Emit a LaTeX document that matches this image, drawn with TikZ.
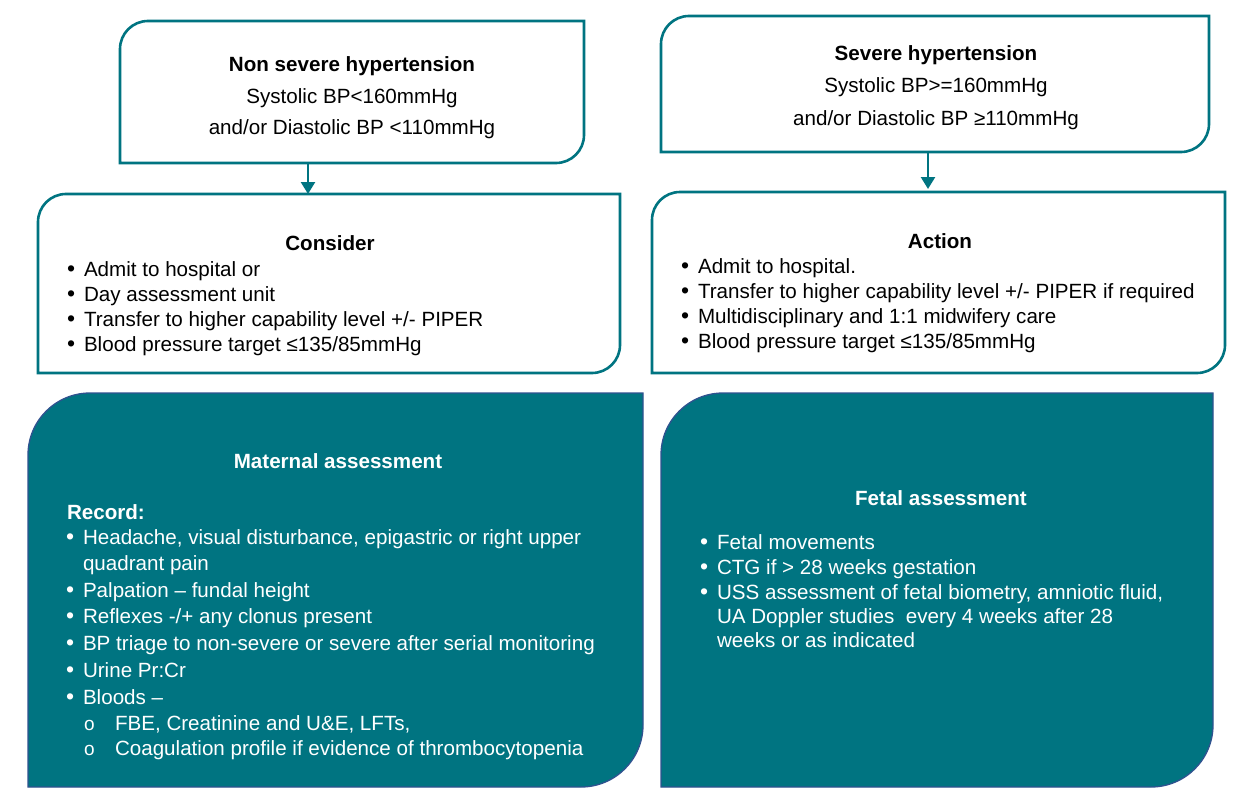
\documentclass[tikz,border=0pt]{standalone}
\usepackage{fontspec}
\setmainfont{Liberation Sans}
\usetikzlibrary{calc,arrows.meta}
\definecolor{teal1}{RGB}{0,116,129}
\definecolor{edgeblue}{RGB}{47,82,143}
\newcommand\frameTLBR[3]{%
\draw[#3] (#1.south west) -- ($(#1.north west)+(0,#2)$)
  .. controls ($(#1.north west)+(0,0.4477*#2)$) and ($(#1.north west)+(0.4477*#2,0)$) .. ($(#1.north west)+(#2,0)$)
  -- (#1.north east) -- ($(#1.south east)+(0,-#2)$)
  .. controls ($(#1.south east)+(0,-0.4477*#2)$) and ($(#1.south east)+(-0.4477*#2,0)$) .. ($(#1.south east)+(-#2,0)$)
  -- cycle;}
\newcommand\bul{\makebox[17pt][l]{\fontsize{23}{24}\selectfont\textbullet}}
\newcommand\subo{\makebox[32pt][l]{\hspace{1pt}\fontsize{19}{19}\selectfont o}}
\tikzset{
  box/.style={rectangle,inner sep=0pt,outer sep=0pt},
  whiteframe/.style={draw=teal1,line width=2.6pt,fill=white},
  tealframe/.style={draw=edgeblue,line width=1.3pt,fill=teal1},
  txt/.style={inner sep=0pt,outer sep=0pt,font=\fontsize{20.6}{24}\selectfont,anchor=base west},
  head/.style={inner sep=0pt,outer sep=0pt,font=\fontsize{20.6}{24}\selectfont,anchor=base},
  arr/.style={draw=teal1,line width=2.4pt,-{Triangle[width=14pt,length=12pt]}},
}
\begin{document}
\begin{tikzpicture}[x=1pt,y=-1pt]
\useasboundingbox[fill=white] (0,0) rectangle (1260,797);
% boxes
\node[box,minimum width=464pt,minimum height=142pt] (nonsev) at (352,92) {};
\node[box,minimum width=548pt,minimum height=136pt] (sev) at (935,84) {};
\node[box,minimum width=582pt,minimum height=179pt] (cons) at (329,283.5) {};
\node[box,minimum width=573pt,minimum height=181pt] (act) at (938.5,282.5) {};
\node[box,minimum width=615pt,minimum height=394pt] (mat) at (335.5,590) {};
\node[box,minimum width=552pt,minimum height=394pt] (fet) at (937,590) {};
\frameTLBR{nonsev}{28}{whiteframe}
\frameTLBR{sev}{28}{whiteframe}
\frameTLBR{cons}{28}{whiteframe}
\frameTLBR{act}{28}{whiteframe}
\frameTLBR{mat}{62}{tealframe}
\frameTLBR{fet}{62}{tealframe}
% arrows
\draw[arr] ([xshift=-44pt]nonsev.south) -- ([xshift=-44pt]nonsev.south |- cons.north);
\draw[arr] ([xshift=-7pt]sev.south) -- ([xshift=-7pt,yshift=3pt]sev.south |- act.north);
% top-left text
\node[head] (t1a) at (352,72) {\bfseries Non severe hypertension};
\node[head] (t1b) at (352,103) {Systolic BP<160mmHg};
\node[head] (t1c) at (352,135) {and/or Diastolic BP <110mmHg};
% top-right text
\node[head] (t2a) at (936,61) {\bfseries Severe hypertension};
\node[head] (t2b) at (936,93) {Systolic BP>=160mmHg};
\node[head] (t2c) at (936,125) {and/or Diastolic BP ≥110mmHg};
% consider
\node[head] (c0) at (330,250) {\bfseries Consider};
\node[txt] (c1) at (67,276) {\bul Admit to hospital or};
\node[txt] (c2) at (67,301) {\bul Day assessment unit};
\node[txt] (c3) at (67,326) {\bul Transfer to higher capability level +/- PIPER};
\node[txt] (c4) at (67,351) {\bul Blood pressure target ≤135/85mmHg};
% action
\node[head] (a0) at (940,248) {\bfseries Action};
\node[txt] (a1) at (681,273) {\bul Admit to hospital.};
\node[txt] (a2) at (681,298) {\bul Transfer to higher capability level +/- PIPER if required};
\node[txt] (a3) at (681,323) {\bul Multidisciplinary and 1:1 midwifery care};
\node[txt] (a4) at (681,348) {\bul Blood pressure target ≤135/85mmHg};
% maternal
\begin{scope}[every node/.append style={text=white}]
\node[head] (m0) at (338,468) {\bfseries Maternal assessment};
\node[txt] (m1) at (67,519) {\bfseries Record:};
\node[txt] (m2) at (66,544) {\bul Headache, visual disturbance, epigastric or right upper};
\node[txt] (m3) at (83,570) {quadrant pain};
\node[txt] (m4) at (66,597) {\bul Palpation – fundal height};
\node[txt] (m5) at (66,623) {\bul Reflexes -/+ any clonus present};
\node[txt] (m6) at (66,650) {\bul BP triage to non-severe or severe after serial monitoring};
\node[txt] (m7) at (66,677) {\bul Urine Pr:Cr};
\node[txt] (m8) at (66,704) {\bul Bloods –};
\node[txt] (m9) at (83,730) {\subo FBE, Creatinine and U\&E, LFTs,};
\node[txt] (m10) at (83,755) {\subo Coagulation profile if evidence of thrombocytopenia};
% fetal
\node[head] (f0) at (941,505) {\bfseries Fetal assessment};
\node[txt] (f1) at (700,549) {\bul Fetal movements};
\node[txt] (f2) at (700,574) {\bul CTG if > 28 weeks gestation};
\node[txt] (f3) at (700,599) {\bul USS assessment of fetal biometry, amniotic fluid,};
\node[txt] (f4) at (717,623) {UA Doppler studies\ \ every 4 weeks after 28};
\node[txt] (f5) at (717,647) {weeks or as indicated};
\end{scope}
\end{tikzpicture}
\end{document}
